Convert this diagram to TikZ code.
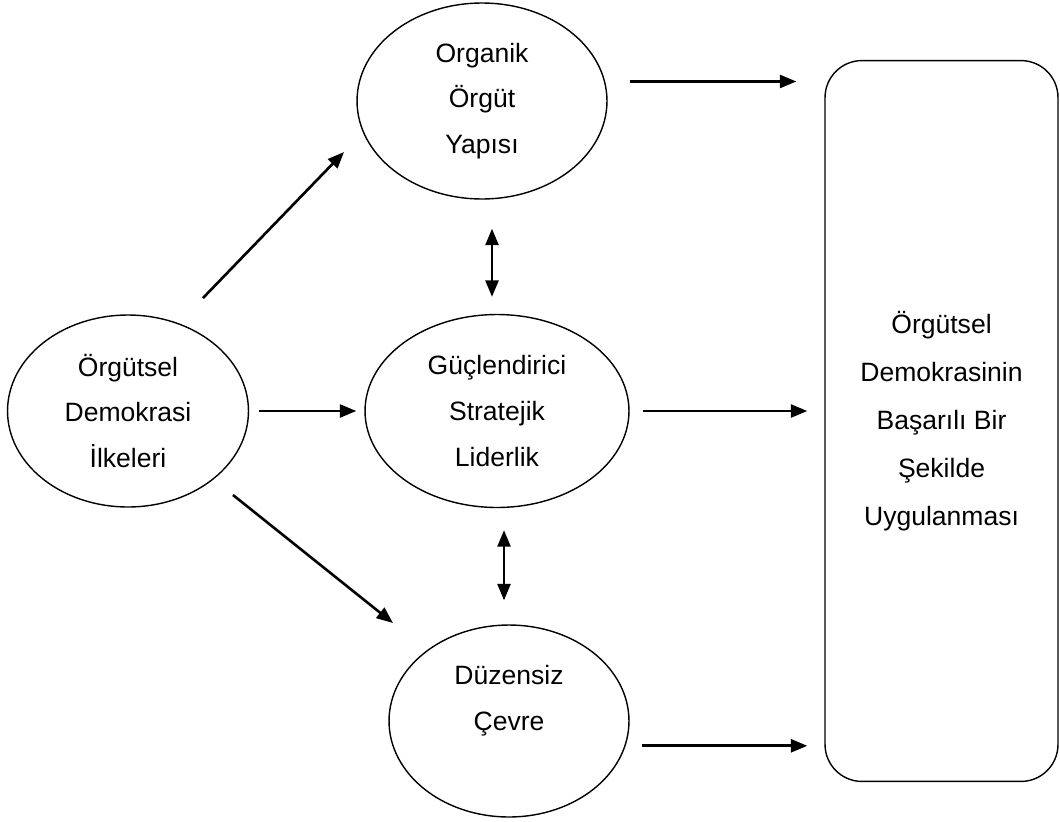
\documentclass[tikz,border=0pt]{standalone}
\usepackage{fontspec}
\setmainfont{Liberation Sans}
\usetikzlibrary {
  shapes.geometric,
  arrows.meta,
  positioning,
}
\tikzset{
  elip/.style 2 args = {
    shape = ellipse,
    draw = black,
    line width = 0.8pt,
    align = center,
    inner sep = 0pt,
    minimum width = #1,
    minimum height = #2,
    font = \fontsize{15.1}{26.1}\selectfont
  },
  caja/.style = {
    shape = rectangle,
    draw = black,
    line width = 0.8pt,
    rounded corners = 0.74cm,
    align = center,
    inner sep = 0pt,
    minimum width = 4.66cm,
    minimum height = 14.42cm,
    font = \fontsize{15.1}{27.4}\selectfont
  },
  flecha/.style = {
    -{Triangle[length = 0.33cm, width = 0.26cm]},
    line width = 1.5pt
  },
  doble/.style = {
    {Triangle[length = 0.33cm, width = 0.26cm]}-{Triangle[length = 0.33cm, width = 0.26cm]},
    line width = 1.5pt
  }
}

\begin{document}
\begin{tikzpicture}[x = 0.02cm, y = -0.02cm]
  \useasboundingbox (0,0) rectangle (1060,821);

  % Elipsler.
  \node[elip = {5cm}{3.92cm}] (org) at (482,101) {Organik\\Örgüt\\Yapısı};
  \node[elip = {5.28cm}{3.86cm}] (gsl) at (497,411) {Güçlendirici\\Stratejik\\Liderlik};
  \node[elip = {4.8cm}{3.84cm}] (dzc) at (509,721) {Düzensiz\\Çevre\\\mbox{}};
  \node[elip = {4.82cm}{3.84cm}] (odi) at (128,411) {Örgütsel\\Demokrasi\\İlkeleri};

  % Sonuç.
  \node[caja] (box) at (941.5,421)
    {Örgütsel\\Demokrasinin\\Başarılı Bir\\Şekilde\\Uygulanması};

  % Bağlantılar.
  \draw[flecha, shorten < = 0.2cm, shorten > = 0.16cm] (odi.east) -- (gsl.west);
  \draw[flecha] ([shift = {(1.5cm,2.26cm)}]odi.center) -- ([shift = {(-2.76cm,-1.02cm)}]org.center);
  \draw[flecha] ([shift = {(2.1cm,-1.68cm)}]odi.center) -- ([shift = {(-2.32cm,1.96cm)}]dzc.center);
  \draw[flecha, shorten < = 0.49cm, shorten > = 0.56cm] (org.9) -- (org.9 -| box.west);
  \draw[flecha, shorten < = 0.26cm, shorten > = 0.34cm] (gsl.east) -- (gsl.east -| box.west);
  \draw[flecha, shorten < = 0.33cm, shorten > = 0.34cm] (dzc.-12.7) -- (dzc.-12.7 -| box.west);
  \draw[doble, shorten < = 0.58cm, shorten > = 0.34cm]
    ([xshift = 0.2cm]org.south) -- ([xshift = 0.2cm]org.south |- gsl.north);
  \draw[doble, shorten < = 0.44cm, shorten > = 0.48cm]
    ([xshift = 0.14cm]gsl.south) -- ([xshift = 0.14cm]gsl.south |- dzc.north);
\end{tikzpicture}
\end{document}
